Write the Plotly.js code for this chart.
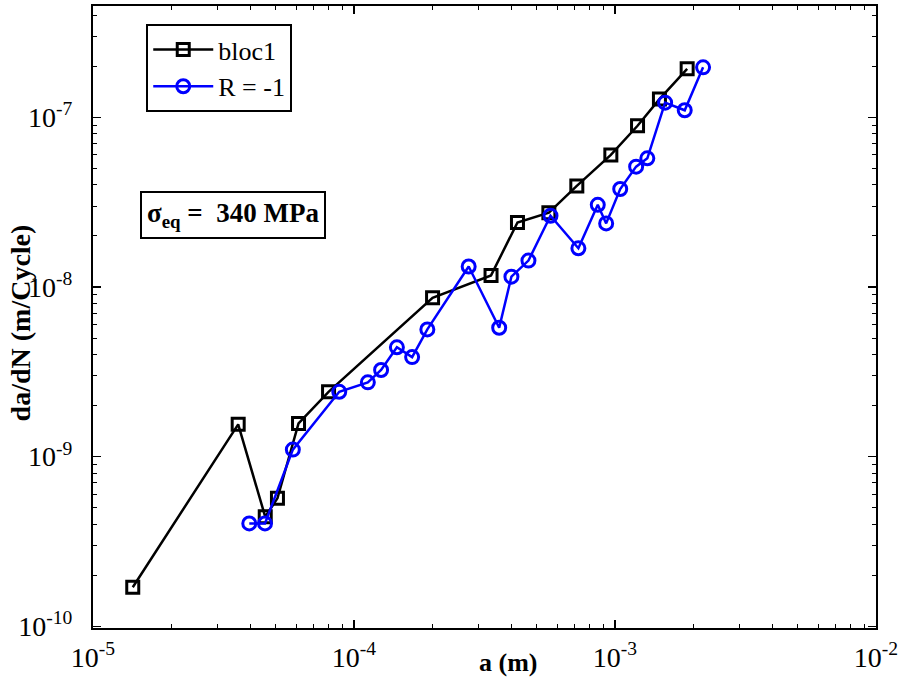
<!DOCTYPE html>
<html>
<head>
<meta charset="utf-8">
<script src="https://cdn.plot.ly/plotly-3.0.1.min.js"></script>
<style>html,body{margin:0;padding:0;background:#fff;}#chart{width:900px;height:686px;}</style>
</head>
<body>
<div id="chart"></div>
<script>
// bloc1 series
const blocA = [1.42e-5, 3.60e-5, 4.57e-5, 5.09e-5, 6.13e-5, 7.99e-5, 2.00e-4, 3.35e-4, 4.23e-4, 5.58e-4, 7.14e-4, 9.64e-4, 1.22e-3, 1.48e-3, 1.89e-3];
const blocRate = [1.70e-10, 1.55e-9, 4.42e-10, 5.68e-10, 1.57e-9, 2.41e-9, 8.63e-9, 1.17e-8, 2.40e-8, 2.74e-8, 3.94e-8, 6.0e-8, 8.92e-8, 1.28e-7, 1.93e-7];
// R = -1 series
const rA = [3.97e-5, 4.56e-5, 5.83e-5, 8.78e-5, 1.13e-4, 1.27e-4, 1.46e-4, 1.67e-4, 1.91e-4, 2.75e-4, 3.60e-4, 4.01e-4, 4.66e-4, 5.66e-4, 7.24e-4, 8.59e-4, 9.25e-4, 1.047e-3, 1.205e-3, 1.33e-3, 1.556e-3, 1.85e-3, 2.175e-3];
const rRate = [4.04e-10, 4.04e-10, 1.10e-9, 2.41e-9, 2.74e-9, 3.24e-9, 4.41e-9, 3.86e-9, 5.62e-9, 1.32e-8, 5.75e-9, 1.15e-8, 1.43e-8, 2.63e-8, 1.69e-8, 3.05e-8, 2.37e-8, 3.78e-8, 5.12e-8, 5.73e-8, 1.22e-7, 1.10e-7, 1.97e-7];
// tick labels
const xTickVals = [1e-5, 1e-4, 1e-3, 1e-2];
const xTickText = ['10<sup>-5</sup>', '10<sup>-4</sup>', '10<sup>-3</sup>', '10<sup>-2</sup>'];
const yTickVals = [1e-10, 1e-9, 1e-8, 1e-7];
const yTickText = ['10<sup>-10</sup>', '10<sup>-9</sup>', '10<sup>-8</sup>', '10<sup>-7</sup>'];
const seriesNames = ['bloc1', 'R = -1'];

function minorTicks(lo, hi) {
  const out = [];
  for (let e = lo; e <= hi; e++) {
    for (let m = 2; m <= 9; m++) out.push(m * Math.pow(10, e));
  }
  return out;
}

const FONT = 'Liberation Serif, Times New Roman, serif';

const traces = [
  {
    x: blocA, y: blocRate, name: seriesNames[0], type: 'scatter', mode: 'lines+markers',
    line: {color: '#000000', width: 2.5},
    marker: {symbol: 'square-open', size: 12, color: '#000000', line: {width: 3, color: '#000000'}}
  },
  {
    x: rA, y: rRate, name: seriesNames[1], type: 'scatter', mode: 'lines+markers',
    line: {color: '#0000ff', width: 2.5},
    marker: {symbol: 'circle-open', size: 13, color: '#0000ff', line: {width: 3, color: '#0000ff'}}
  }
];

const axisCommon = {
  type: 'log', showgrid: false, zeroline: false,
  showline: true, linecolor: '#000', linewidth: 2, mirror: 'ticks',
  ticks: 'inside', ticklen: 8, tickwidth: 1.2, tickcolor: '#000',
  tickmode: 'array',
  tickfont: {family: FONT, size: 28, color: '#000'}
};

const layout = {
  width: 900, height: 686,
  margin: {l: 93, r: 24, t: 6, b: 58},
  paper_bgcolor: '#fff', plot_bgcolor: '#fff',
  showlegend: true,
  xaxis: Object.assign({}, axisCommon, {
    range: [-5, -2], tickvals: xTickVals, ticktext: xTickText, ticklabelstandoff: 3,
    minor: {tickmode: 'array', tickvals: minorTicks(-5, -3), ticks: 'inside', ticklen: 4, tickwidth: 1, tickcolor: '#000', showgrid: false}
  }),
  yaxis: Object.assign({}, axisCommon, {
    range: [-10.01, -6.344], tickvals: yTickVals, ticktext: yTickText, ticklabelstandoff: 13,
    minor: {tickmode: 'array', tickvals: minorTicks(-11, -7), ticks: 'inside', ticklen: 4, tickwidth: 1, tickcolor: '#000', showgrid: false}
  }),
  legend: {
    x: 0.068, y: 0.971, xanchor: 'left', yanchor: 'top',
    bgcolor: '#fff', bordercolor: '#000', borderwidth: 2,
    font: {family: FONT, size: 26, color: '#000'},
    itemwidth: 60
  },
  annotations: [
    {
      xref: 'paper', yref: 'paper', x: 0.179, y: 0.664, xanchor: 'center', yanchor: 'middle',
      text: '<b>σ<sub>eq</sub> =  340 MPa</b>', showarrow: false,
      font: {family: FONT, size: 27, color: '#000'},
      bordercolor: '#000', borderwidth: 2, borderpad: 5, bgcolor: '#fff'
    },
    {
      xref: 'paper', yref: 'paper', x: 0.530, y: -0.056, xanchor: 'center', yanchor: 'middle',
      text: '<b>a (m)</b>', showarrow: false,
      font: {family: FONT, size: 26, color: '#000'}
    },
    {
      xref: 'paper', yref: 'paper', x: -0.093, y: 0.49, xanchor: 'center', yanchor: 'middle',
      text: '<b>da/dN (m/Cycle)</b>', showarrow: false, textangle: -90,
      font: {family: FONT, size: 28, color: '#000'}
    }
  ]
};

Plotly.newPlot('chart', traces, layout, {displayModeBar: false, staticPlot: true});
</script>
</body>
</html>
